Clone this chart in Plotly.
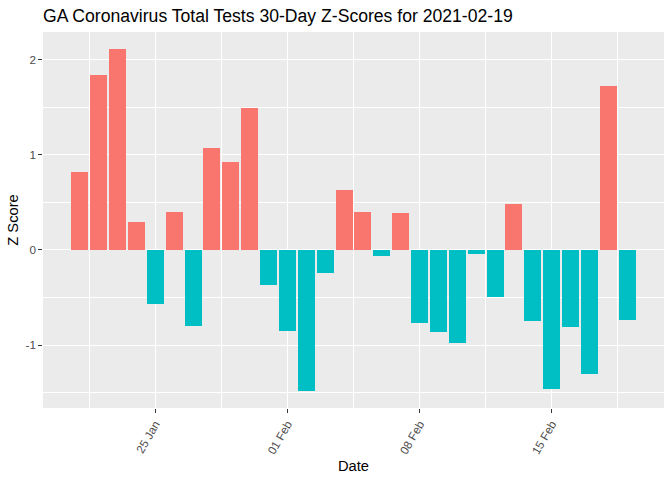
import pandas as pd
import plotly.graph_objects as go

dates = pd.date_range("2021-01-21", "2021-02-19", freq="D")
z_scores = [0.82, 1.84, 2.11, 0.29, -0.57, 0.40, -0.80, 1.07, 0.92, 1.49,
            -0.37, -0.85, -1.48, -0.24, 0.63, 0.40, -0.06, 0.39, -0.77, -0.86,
            -0.98, -0.04, -0.49, 0.48, -0.75, -1.46, -0.81, -1.30, 1.72, -0.73]
tick_dates = ["2021-01-25", "2021-02-01", "2021-02-08", "2021-02-15"]
tick_labels = ["25 Jan", "01 Feb", "08 Feb", "15 Feb"]
y_ticks = [-1, 0, 1, 2]
y_tick_labels = ["-1", "0", "1", "2"]

POS, NEG = "#F8766D", "#00BFC4"
colors = [POS if v > 0 else NEG for v in z_scores]

day_ms = 86400000
fig = go.Figure(go.Bar(
    x=dates, y=z_scores, width=0.9 * day_ms,
    marker=dict(color=colors, line=dict(width=0)),
    showlegend=False, hoverinfo="skip",
))

span = (dates[-1] - dates[0]) + pd.Timedelta(days=0.9)
pad = span * 0.05 + pd.Timedelta(days=0.45)
x_range = [dates[0] - pad, dates[-1] + pad]
ymin, ymax = min(z_scores), max(z_scores)
ypad = (ymax - ymin) * 0.05

font = "Liberation Sans, Arial, sans-serif"
fig.update_layout(
    width=672, height=480,
    margin=dict(l=43, r=8, t=32, b=72, autoexpand=False),
    paper_bgcolor="white", plot_bgcolor="#EBEBEB",
    font=dict(family=font, color="black"),
    title=dict(text="GA Coronavirus Total Tests 30-Day Z-Scores for 2021-02-19",
               x=0, xanchor="left", xref="paper",
               y=1 - 16 / 480, yanchor="middle", yref="container",
               pad=dict(l=0, r=0, t=0, b=0),
               font=dict(size=17.6, color="black", family=font)),
    bargap=0,
)
fig.update_xaxes(
    type="date", range=x_range, automargin=False,
    tickvals=tick_dates, ticktext=tick_labels, tickangle=-60,
    tickfont=dict(size=11.7, color="#4D4D4D", family=font),
    ticks="outside", ticklen=3.7, tickcolor="#333333", tickwidth=1,
    showgrid=True, gridcolor="white", gridwidth=1.1,
    minor=dict(tick0="2021-01-21 12:00", dtick=7 * day_ms, showgrid=True,
               gridcolor="white", gridwidth=0.55, ticks=""),
    zeroline=False, showline=False,
    title=dict(text="Date", font=dict(size=14.7, color="black", family=font), standoff=5),
)
fig.update_yaxes(
    range=[ymin - ypad, ymax + ypad], automargin=False,
    tickvals=y_ticks, ticktext=y_tick_labels,
    tickfont=dict(size=11.7, color="#4D4D4D", family=font),
    ticks="outside", ticklen=3.7, tickcolor="#333333", tickwidth=1,
    showgrid=True, gridcolor="white", gridwidth=1.1,
    minor=dict(tick0=-1.5, dtick=0.5, showgrid=True, gridcolor="white",
               gridwidth=0.55, ticks=""),
    zeroline=False, showline=False,
    title=dict(text="Z Score", font=dict(size=14.7, color="black", family=font), standoff=3),
)

fig.write_html("out.html", config={"displayModeBar": False},
               post_script="document.body.style.margin='0';")
